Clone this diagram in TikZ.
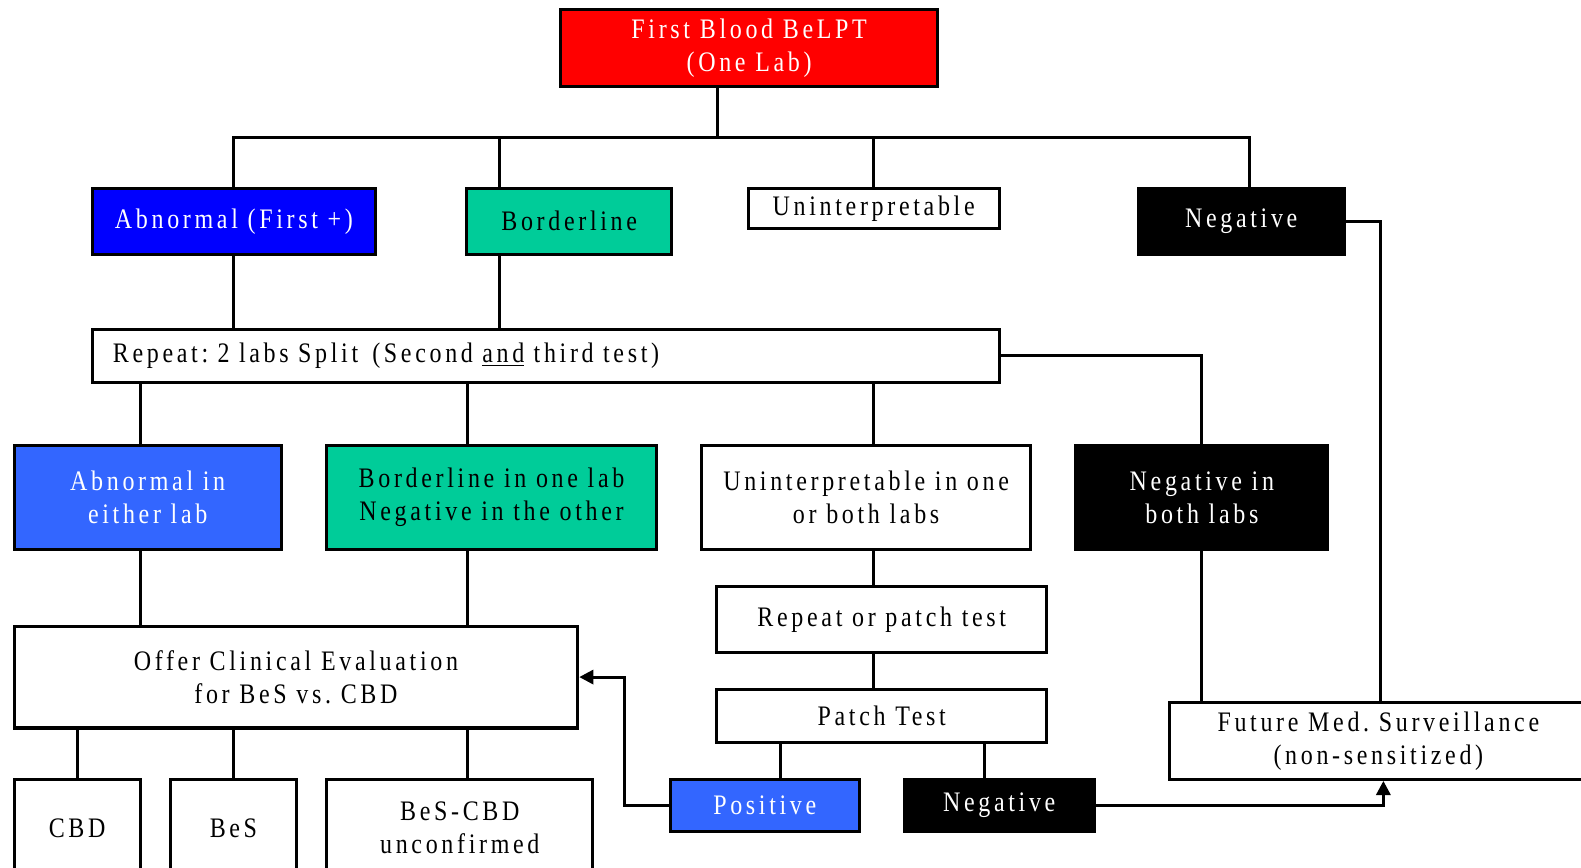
\documentclass[tikz,border=0pt]{standalone}
\usepackage{fontspec}
\setmainfont[FakeStretch=0.85,LetterSpace=13]{Liberation Serif}
\usepackage{xcolor}
\usetikzlibrary{shapes, positioning, arrows.meta}
\frenchspacing

\definecolor{firstred}{HTML}{FF0000}
\definecolor{abnblue}{HTML}{0000FF}
\definecolor{posblue}{HTML}{3366FF}
\definecolor{bordteal}{HTML}{00CC99}

\tikzset{
	box/.style={draw=black, line width=1.5pt, inner sep=0pt, align=center, font=\fontsize{14}{16.5}\selectfont},
	whitebox/.style={box, fill=white, text=black},
	blackbox/.style={box, fill=black, text=white},
	link/.style={line width=1.5pt},
	arr/.style={line width=1.5pt, -{Triangle[length=7pt,width=7pt]}}
}

\begin{document}
\begin{tikzpicture}[x=0.5pt, y=-0.5pt]
			\useasboundingbox (0,0) rectangle (1568,860);
			
			\node[box, fill=firstred, text=white, minimum width=187pt, minimum height=38.5pt] (first) at (743,47.5) {First Blood BeLPT\\(One Lab)};
			
			\node[box, fill=abnblue, text=white, minimum width=140pt, minimum height=32.5pt] (abn1) at (232,219.5) {Abnormal (First +)};
			\node[box, fill=bordteal, minimum width=101.5pt, minimum height=32.5pt] (bord1) at (564.5,219.5) {Borderline};
			\node[whitebox, minimum width=124.5pt, minimum height=20pt] (unint1) at (866.5,207) {Uninterpretable};
			\node[blackbox, minimum width=102pt, minimum height=32.5pt] (neg1) at (1231,219.5) {Negative};
			
			\node[whitebox, align=left, inner xsep=10pt, text width=429.5pt, minimum height=26pt] (repeat) at (541.5,353) {Repeat: 2 labs Split\enspace(Second \underline{and} third test)};
			
			\node[box, fill=posblue, text=white, minimum width=132.5pt, minimum height=51.5pt] (abn2) at (146.5,493.5) {Abnormal in\\either lab};
			\node[box, fill=bordteal, minimum width=163.5pt, minimum height=51.5pt] (bord2) at (487.5,493.5) {Borderline in one lab\\Negative in the other};
			\node[whitebox, minimum width=163pt, minimum height=51.5pt] (unint2) at (859,493.5) {Uninterpretable in one\\or both labs};
			\node[blackbox, minimum width=125pt, minimum height=51.5pt] (neg2) at (1192,493.5) {Negative in\\both labs};
			
			\node[whitebox, minimum width=163.5pt, minimum height=32.5pt] (reppatch) at (874.5,614.5) {Repeat or patch test};
			\node[whitebox, minimum width=163.5pt, minimum height=26pt] (patch) at (874.5,710) {Patch Test};
			\node[whitebox, minimum width=207pt, minimum height=38pt] (future) at (1367,735) {Future Med. Surveillance\\(non-sensitized)};
			\node[box, fill=posblue, text=white, minimum width=93.5pt, minimum height=26pt] (pos) at (758.5,799) {Positive};
			\node[blackbox, minimum width=94pt, minimum height=26pt] (neg3) at (991,799) {Negative};
			
			\node[whitebox, minimum width=279.5pt, minimum height=50.5pt] (offer) at (293.5,671.5) {Offer Clinical Evaluation\\for BeS vs. CBD};
			\node[whitebox, minimum width=62.5pt, minimum height=48pt] (cbd) at (76.5,821) {CBD};
			\node[whitebox, minimum width=62.5pt, minimum height=48pt] (bes) at (231.5,821) {BeS};
			\node[whitebox, minimum width=132pt, minimum height=48pt] (unconf) at (456,821) {BeS-CBD\\unconfirmed};
			
			\coordinate (bus) at (712,136);
			\coordinate (posbend) at (619,799);
			
			% first result split
			\draw[link] (first.south -| bus) -- (bus);
			\draw[link] (abn1.north) -- (abn1.north |- bus) -- ([xshift=4pt]neg1.north |- bus) -- ([xshift=4pt]neg1.north);
			\draw[link] ([xshift=-34.75pt]bord1.north) -- ([xshift=-34.75pt]bord1.north |- bus);
			\draw[link] (unint1.north) -- (unint1.north |- bus);
			\draw[link] (neg1.east) -| ([xshift=1pt]future.north);
			
			% repeat test
			\draw[link] (abn1.south) -- (abn1.south |- repeat.north);
			\draw[link] ([xshift=-34.75pt]bord1.south) -- ([xshift=-34.75pt]bord1.south |- repeat.north);
			\draw[link] (repeat.east) -| (neg2.north);
			\draw[link] ([xshift=-3.75pt]abn2.north) -- ([xshift=-3.75pt]abn2.north |- repeat.south);
			\draw[link] ([xshift=-11.75pt]bord2.north) -- ([xshift=-11.75pt]bord2.north |- repeat.south);
			\draw[link] ([xshift=3.5pt]unint2.north) -- ([xshift=3.5pt]unint2.north |- repeat.south);
			
			% second results
			\draw[link] ([xshift=-3.75pt]abn2.south) -- ([xshift=-3.75pt]abn2.south |- offer.north);
			\draw[link] ([xshift=-11.75pt]bord2.south) -- ([xshift=-11.75pt]bord2.south |- offer.north);
			\draw[link] (neg2.south) -- (neg2.south |- future.north);
			\draw[link] ([xshift=-4.25pt]reppatch.north) -- ([xshift=-4.25pt]reppatch.north |- unint2.south);
			\draw[link] ([xshift=-4.25pt]reppatch.south) -- ([xshift=-4.25pt]reppatch.south |- patch.north);
			
			% patch test
			\draw[link] ([xshift=7.75pt]pos.north) -- ([xshift=7.75pt]pos.north |- patch.south);
			\draw[link] ([xshift=-7.5pt]neg3.north) -- ([xshift=-7.5pt]neg3.north |- patch.south);
			\draw[arr] (pos.west) -- (posbend) |- (offer.east);
			\draw[arr] (neg3.east) -| ([xshift=2.5pt]future.south);
			
			% evaluation
			\draw[link] (cbd.north) -- (cbd.north |- offer.south);
			\draw[link] (bes.north) -- (bes.north |- offer.south);
			\draw[link] ([xshift=4pt]unconf.north) -- ([xshift=4pt]unconf.north |- offer.south);
		\end{tikzpicture}
\end{document}
